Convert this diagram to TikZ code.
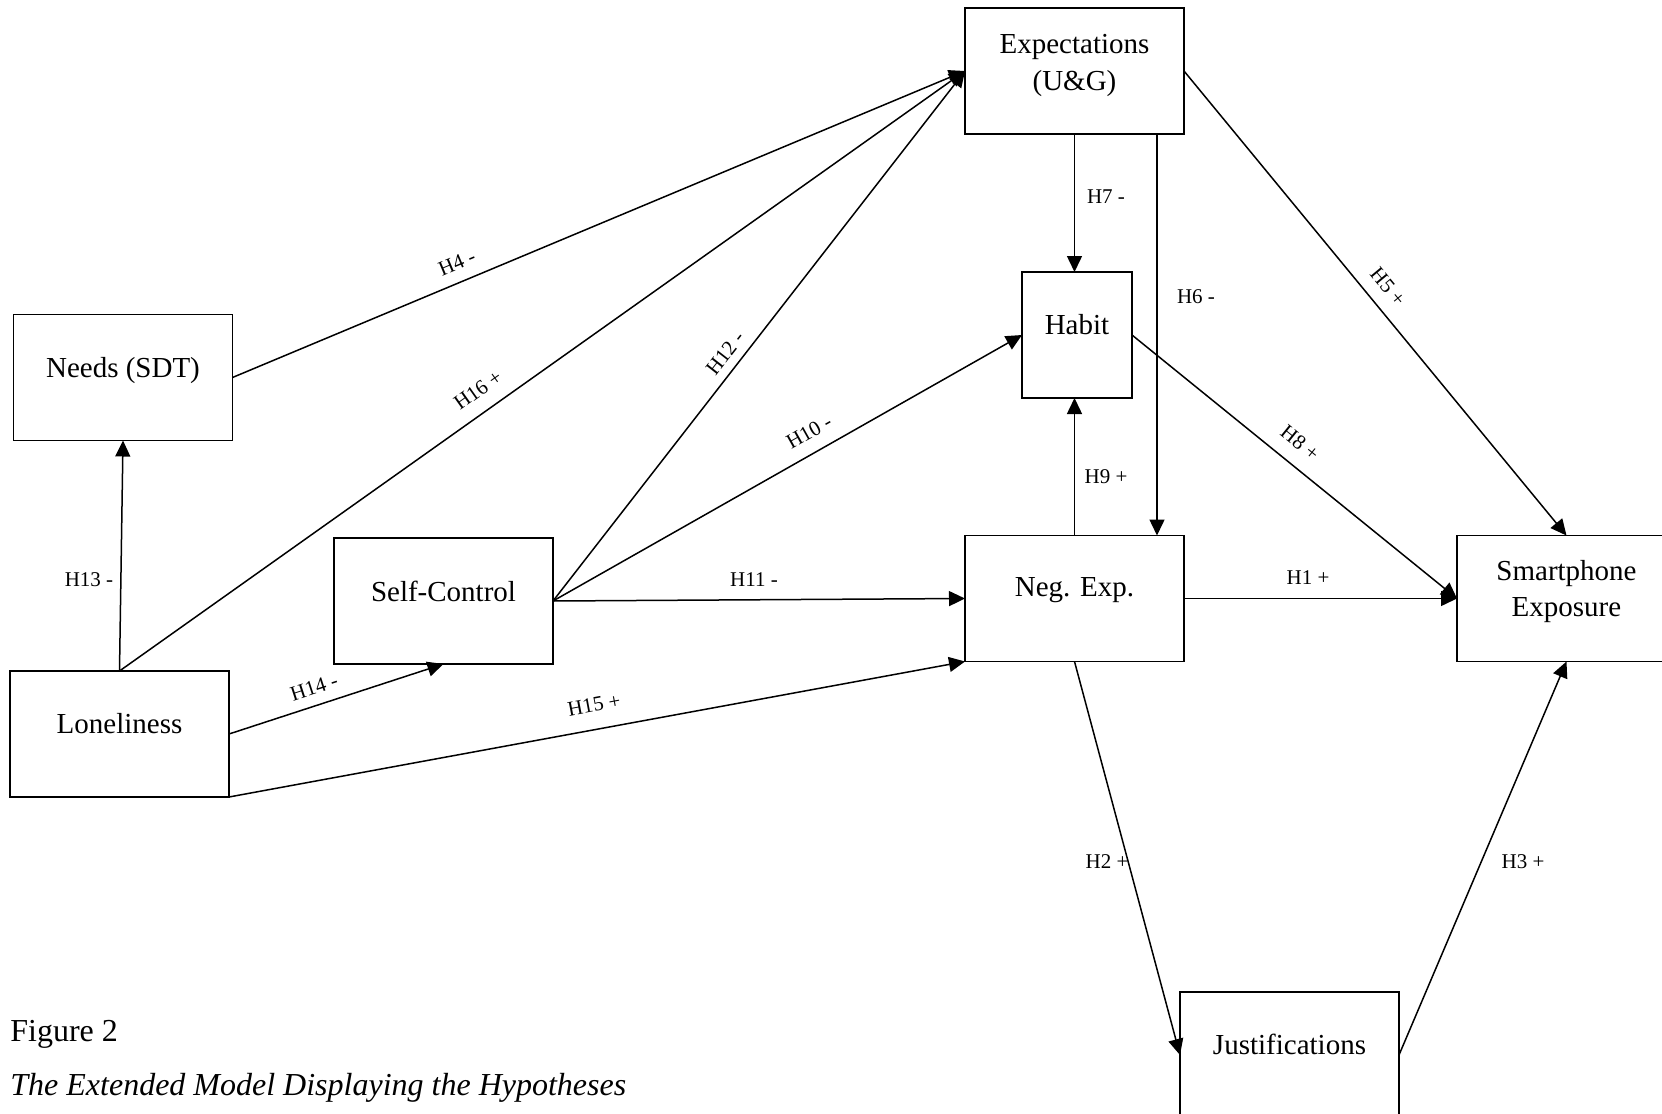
\documentclass[tikz,border=0pt]{standalone}
\usepackage{fontspec}
\setmainfont{Liberation Serif}
\usetikzlibrary{arrows.meta}
\begin{document}
\begin{tikzpicture}[x=0.5pt,y=-0.5pt,
  box/.style={draw, line width=0.8pt, minimum width=109.5pt, minimum height=63pt,
              inner sep=0pt, outer sep=0pt},
  boxtext/.style={font=\fontsize{14.5}{18}\selectfont, inner sep=0pt, anchor=base},
  hyp/.style={font=\fontsize{10.5}{12}\selectfont, inner sep=0pt},
  link/.style={line width=0.75pt, -{Triangle[length=8pt,width=7.5pt]}},
  captext/.style={font=\fontsize{16}{19}\selectfont, inner sep=0pt, anchor=base west}]
\useasboundingbox (0,0) rectangle (1662,1114);

% constructs
\node[box] (exp)   at (1074.5,71)   {};
\node[box] (needs) at (123,377.5)   {};
\node[box, minimum width=55pt] (habit) at (1077,335) {};
\node[box] (lone)  at (119.5,734)   {};
\node[box] (self)  at (443.5,601)   {};
\node[box] (neg)   at (1074.5,598.5) {};
\node[box] (smart) at (1566.5,598.5) {};
\node[box] (just)  at (1289.5,1055) {};

% construct names, set from the top edge of each box
\node[boxtext] (exp-a)   at ([yshift=-22.5pt]exp.north)   {Expectations};
\node[boxtext] (exp-b)   at ([yshift=-41pt]exp.north)     {(U\&G)};
\node[boxtext] (needs-t) at ([yshift=-31.5pt]needs.north) {Needs (SDT)};
\node[boxtext] (habit-t) at ([yshift=-31pt]habit.north)   {Habit};
\node[boxtext] (lone-t)  at ([yshift=-31pt]lone.north)    {Loneliness};
\node[boxtext] (self-t)  at ([yshift=-31.5pt]self.north)  {Self-Control};
\node[boxtext] (neg-t)   at ([yshift=-30.5pt]neg.north)   {Neg. Exp.};
\node[boxtext] (smart-a) at ([yshift=-22.5pt]smart.north) {Smartphone};
\node[boxtext] (smart-b) at ([yshift=-40.5pt]smart.north) {Exposure};
\node[boxtext] (just-t)  at ([yshift=-31pt]just.north)    {Justifications};

% hypothesised paths
\draw[link] (needs.east) -- (exp.west);                        % H4
\draw[link] (lone.north) -- (exp.west);                        % H16
\draw[link] (self.east) -- (exp.west);                         % H12
\draw[link] (self.east) -- (habit.west);                       % H10
\draw[link] (self.east) -- (neg.west);                         % H11
\draw[link] (lone.north) -- (needs.south);                     % H13
\draw[link] (lone.east) -- (self.south);                       % H14
\draw[link] (lone.south east) -- (neg.south west);             % H15
\draw[link] (exp.south) -- (exp.south |- habit.north);         % H7
\draw[link] (neg.north) -- (neg.north |- habit.south);         % H9
\draw[link] ([xshift=-13.5pt]exp.south east) -- ([xshift=-13.5pt]neg.north east); % H6
\draw[link] (exp.east) -- (smart.north);                       % H5
\draw[link] (habit.east) -- (smart.west);                      % H8
\draw[link] (neg.east) -- (smart.west);                        % H1
\draw[link] (neg.south) -- (just.west);                        % H2
\draw[link] (just.east) -- (smart.south);                      % H3

% path labels
\node[hyp, rotate=22.7]  (h4)  at (457,263)  {H4 -};
\node[hyp, rotate=35.3]  (h16) at (478,390)  {H16 +};
\node[hyp, rotate=52]    (h12) at (725,353)  {H12 -};
\node[hyp, rotate=29.3]  (h10) at (809,432)  {H10 -};
\node[hyp]               (h11) at (754,580)  {H11 -};
\node[hyp, rotate=18]    (h14) at (314,687)  {H14 -};
\node[hyp, rotate=10.6]  (h15) at (594,705)  {H15 +};
\node[hyp, rotate=-50.4] (h5)  at (1388,287) {H5 +};
\node[hyp, rotate=-39]   (h8)  at (1300,443) {H8 +};
\node[hyp]               (h7)  at (1106,197) {H7 -};
\node[hyp]               (h9)  at (1106,477) {H9 +};
\node[hyp]               (h6)  at (1196,297) {H6 -};
\node[hyp]               (h1)  at (1308,578) {H1 +};
\node[hyp]               (h2)  at (1107,862) {H2 +};
\node[hyp]               (h3)  at (1523,862) {H3 +};
\node[hyp]               (h13) at (89,580)   {H13 -};

% caption
\node[captext] (fig) at (10,1041) {Figure 2};
\node[captext] (cap) at (10,1095) {\itshape The Extended Model Displaying the Hypotheses};
\end{tikzpicture}
\end{document}
